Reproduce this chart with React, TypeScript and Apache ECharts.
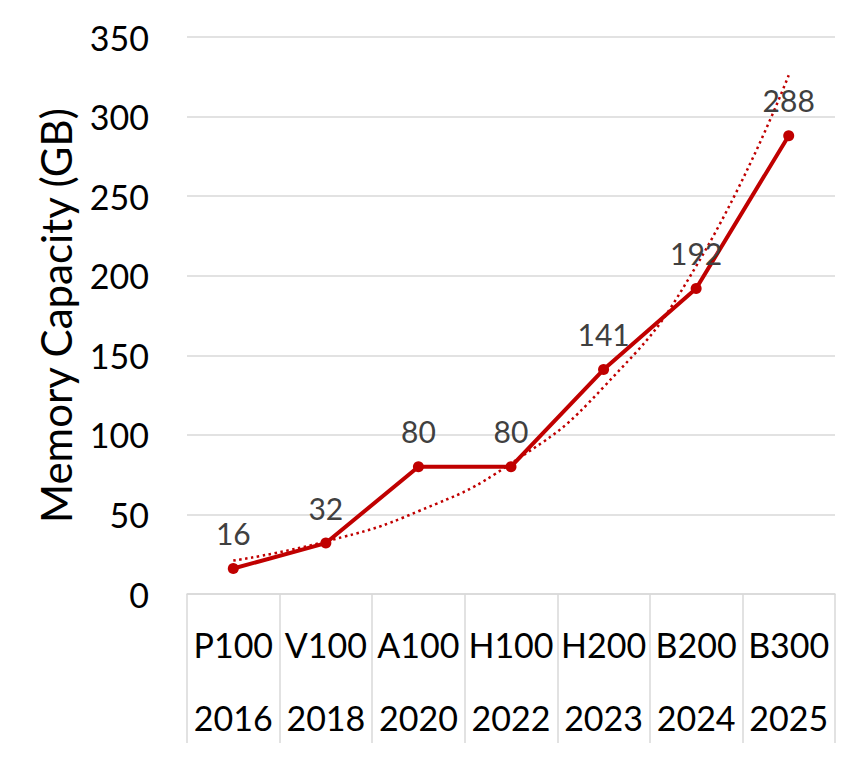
import React, { useEffect, useRef } from "react";
import * as echarts from "echarts";

const gpus = ["P100", "V100", "A100", "H100", "H200", "B200", "B300"];
const years = ["2016", "2018", "2020", "2022", "2023", "2024", "2025"];
const capacity = [16, 32, 80, 80, 141, 192, 288];
const trend = [21, 33, 52, 82, 130, 206, 326];

const FONT = "Lato";

export default function App() {
  const ref = useRef<HTMLDivElement>(null);
  useEffect(() => {
    if (!ref.current) return;
    const chart = echarts.init(ref.current, undefined, { renderer: "svg" });
    chart.setOption({
      animation: false,
      backgroundColor: "#ffffff",
      textStyle: { fontFamily: FONT },
      grid: { left: 179, right: 19, top: 29, bottom: 156, containLabel: false },
      xAxis: {
        type: "category",
        data: gpus,
        boundaryGap: true,
        axisLine: { show: true, lineStyle: { color: "#d9d9d9", width: 1.5 } },
        axisTick: {
          show: true,
          interval: 0,
          alignWithLabel: false,
          length: 149,
          lineStyle: { color: "#d9d9d9", width: 1.5 },
        },
        axisLabel: {
          interval: 0,
          margin: 14,
          formatter: (v: string, i: number) => `{n|${v}}\n{y|${years[i]}}`,
          rich: {
            n: { fontSize: 34, lineHeight: 73, color: "#000000", fontFamily: FONT },
            y: { fontSize: 34, lineHeight: 73, color: "#000000", fontFamily: FONT },
          },
        },
      },
      yAxis: {
        type: "value",
        min: 0,
        max: 350,
        interval: 50,
        name: "Memory Capacity (GB)",
        nameLocation: "middle",
        nameGap: 110,
        nameTextStyle: { fontSize: 42, color: "#000000", fontFamily: FONT },
        axisLine: { show: false },
        axisTick: { show: false },
        axisLabel: { fontSize: 34, color: "#000000", margin: 38, fontFamily: FONT },
        splitLine: { lineStyle: { color: "#d9d9d9", width: 1.5 } },
      },
      series: [
        {
          type: "line",
          data: trend,
          smooth: true,
          symbol: "none",
          z: 1,
          lineStyle: { color: "#C00000", width: 2.5, type: [2.5, 3.5] },
          silent: true,
        },
        {
          type: "line",
          data: capacity,
          z: 2,
          symbol: "circle",
          symbolSize: 11,
          itemStyle: { color: "#C00000" },
          lineStyle: { color: "#C00000", width: 4 },
          label: {
            show: true,
            position: "top",
            distance: 15,
            fontSize: 30,
            color: "#404040",
            fontFamily: FONT,
          },
        },
      ],
    });
    return () => chart.dispose();
  }, []);
  return <div ref={ref} style={{ width: 846, height: 742 }} />;
}
